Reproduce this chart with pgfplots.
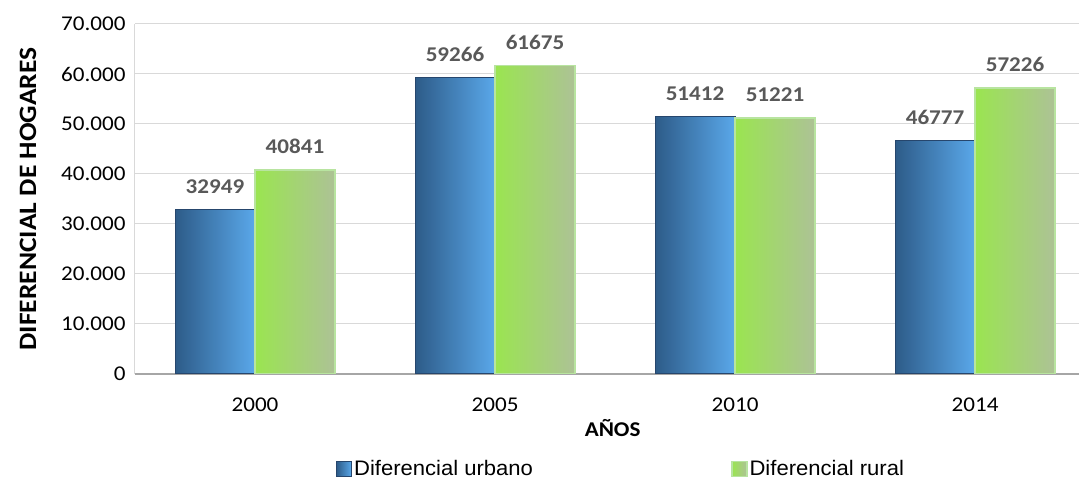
\documentclass[border=0pt]{standalone}
\usepackage{fontspec}
\setmainfont[FakeStretch=1.1]{Carlito}
\newfontfamily\arialf[FakeStretch=1.05]{Liberation Sans}
\usepackage{pgfplots}
\pgfplotsset{compat=1.18}

\definecolor{urbL}{HTML}{2D5B88}
\definecolor{urbR}{HTML}{5AA8EA}
\definecolor{urbE}{HTML}{26466D}
\definecolor{rurL}{HTML}{9AE550}
\definecolor{rurM}{HTML}{86C243}
\definecolor{rurR}{HTML}{ADC296}
\definecolor{rurE}{HTML}{B8E4A0}
\definecolor{gridc}{HTML}{D9D9D9}
\definecolor{labc}{HTML}{595959}

\begin{document}
\begin{tikzpicture}
\useasboundingbox (-135pt,-107pt) rectangle (944pt,374pt);
\begin{axis}[
    at={(0,0)}, anchor=south west,
    scale only axis,
    width=944pt, height=350pt,
    ybar=0pt,
    bar width=80pt,
    urb/.style={draw=urbE, line width=1pt, left color=urbL, right color=urbR},
    rur/.style={draw=rurE, line width=1.5pt, left color=rurL, middle color=rurM, right color=rurR},
    xmin=-0.5, xmax=3.433,
    ymin=0, ymax=70000,
    xtick={0,1,2,3},
    xticklabels={2000,2005,2010,2014},
    ytick={0,10000,...,70000},
    scaled y ticks=false,
    /pgf/number format/1000 sep={.},
    /pgf/number format/assume math mode=true,
    axis x line*=bottom,
    axis y line*=left,
    x axis line style={draw=black!35, line width=1.5pt},
    y axis line style={draw=gridc, line width=1pt},
    major tick length=0pt,
    ymajorgrids,
    grid style={draw=gridc, line width=1pt},
    tick label style={font=\fontsize{21}{24}\selectfont, text=black},
    xticklabel style={anchor=center, yshift=-31pt},
    yticklabel style={anchor=east, xshift=-6pt},
    every axis x label/.style={at={(axis cs:1.49,0)}, yshift=-54pt, anchor=center,
        font=\bfseries\fontsize{21}{24}\selectfont},
    every axis y label/.style={at={(rel axis cs:0,0.5)}, xshift=-107pt, rotate=90,
        anchor=center, font=\bfseries\fontsize{25}{27}\selectfont},
    xlabel={AÑOS},
    ylabel={DIFERENCIAL DE HOGARES},
    nodes near coords={\pgfmathprintnumber[fixed,precision=0,1000 sep={}]{\pgfplotspointmeta}},
    every node near coord/.append style={font=\bfseries\fontsize{21}{24}\selectfont,
        text=labc, yshift=12pt},
    legend columns=2,
    legend style={at={(axis cs:1.525,-16500)}, anchor=north, draw=none, fill=none,
        font=\arialf\fontsize{21}{24}\selectfont,
        /tikz/every even column/.append style={column sep=196pt}},
    legend cell align=left,
    legend image code/.code={\path[#1] (0pt,-7.5pt) rectangle (15pt,7.5pt);},
]
% urbano
\addplot[urb, bar shift=-40pt, forget plot] coordinates {(0,32949)};
\addplot[urb, bar shift=-40pt, forget plot] coordinates {(1,59266)};
\addplot[urb, bar shift=-40pt, forget plot] coordinates {(2,51412)};
\addplot[urb, bar shift=-40pt, forget plot] coordinates {(3,46777)};
% rural
\addplot[rur, bar shift=40pt, forget plot] coordinates {(0,40841)};
\addplot[rur, bar shift=40pt, forget plot] coordinates {(1,61675)};
\addplot[rur, bar shift=40pt, forget plot] coordinates {(2,51221)};
\addplot[rur, bar shift=40pt, forget plot] coordinates {(3,57226)};
\addlegendimage{urb}
\addlegendentry{Diferencial urbano}
\addlegendimage{rur}
\addlegendentry{Diferencial rural}
\end{axis}
\end{tikzpicture}
\end{document}
